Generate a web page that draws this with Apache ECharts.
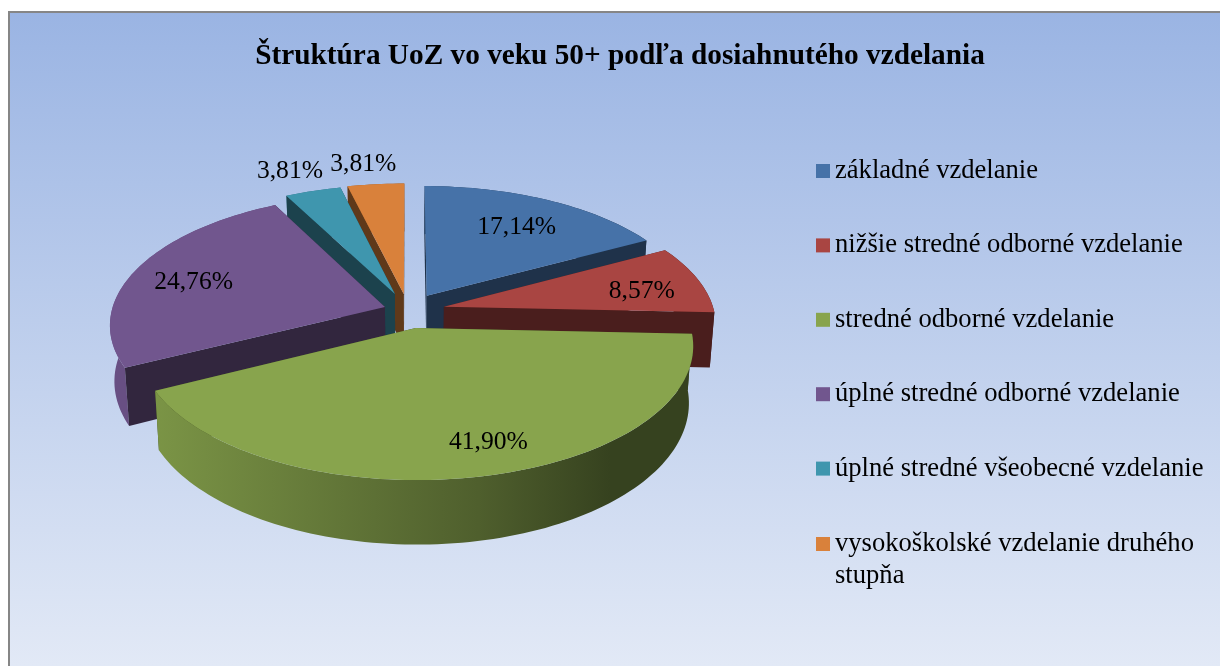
<!DOCTYPE html>
<html>
<head>
<meta charset="utf-8">
<style>html,body{margin:0;padding:0;background:#fff}#chart{width:1220px;height:666px}</style>
<script src="https://cdn.jsdelivr.net/npm/echarts@6/dist/echarts.min.js"></script>
</head>
<body>
<div id="chart"></div>
<script>
// ---- data ----
const titleText = 'Štruktúra UoZ vo veku 50+ podľa dosiahnutého vzdelania';
const categories = [
  'základné vzdelanie',
  'nižšie stredné odborné vzdelanie',
  'stredné odborné vzdelanie',
  'úplné stredné odborné vzdelanie',
  'úplné stredné všeobecné vzdelanie',
  'vysokoškolské vzdelanie druhého stupňa'
];
const shares = [17.14, 8.57, 41.90, 24.76, 3.81, 3.81];

// ---- styling / layout ----
const colors = ['#4672a8', '#a94542', '#88a44d', '#71568e', '#3f96ae', '#d9813b'];
const explode = [0.137, 0.137, 0.137, 0.09, 0.14, 0.13];
const radiusScale = [1, 1, 1, 1.012, 1, 1.015];
const labelRadius = [0.70, 0.76, 0.814, 0.76, 1.23, 1.23];
const labelTurn = [1, 3.5, -4.7, -2.5, -1.4, -1.5];
const PIE = { cx: 408, cy: 310.5, rx: 270, ry: 127.5, persp: 0.13, depth: 55, shrink: 0.985 };

const total = shares.reduce((a, b) => a + b, 0);
const rad = d => d * Math.PI / 180;
let acc = 0;
const slices = shares.map((v, i) => {
  const start = acc / total * 360;
  acc += v;
  const end = acc / total * 360;
  const mid = (start + end) / 2;
  return { start, end, mid, ax: explode[i] * Math.sin(rad(mid)), ay: explode[i] * Math.cos(rad(mid)) };
});
const backToFront = [5, 4, 0, 3, 1, 2];

function project(u, v, low) {
  const w = 1 / (1 + PIE.persp * v);
  let x = PIE.rx * u * w;
  let y = PIE.cy - PIE.ry * v * w;
  if (low) { x *= PIE.shrink; y += PIE.depth * w; }
  return [PIE.cx + x, y];
}
function rimPoint(s, deg, r, low) {
  return project(s.ax + r * Math.sin(rad(deg)), s.ay + r * Math.cos(rad(deg)), low);
}
function mix(hex, k) {
  const n = parseInt(hex.slice(1), 16);
  const c = [n >> 16, (n >> 8) & 255, n & 255].map(x => Math.round(x * k));
  return 'rgb(' + c.join(',') + ')';
}
function polygon(points, fill) {
  return { type: 'polygon', shape: { points }, style: { fill }, silent: true };
}
function renderSlice(i) {
  const s = slices[i];
  const base = colors[i];
  const R = radiusScale[i];
  const top = [], bottom = [];
  const steps = Math.max(4, Math.ceil((s.end - s.start) / 1.5));
  for (let k = 0; k <= steps; k++) {
    const d = s.start + (s.end - s.start) * k / steps;
    top.push(rimPoint(s, d, R, false));
    bottom.push(rimPoint(s, d, R, true));
  }
  const wall = deg => polygon([
    rimPoint(s, deg, 0, false), rimPoint(s, deg, R, false),
    rimPoint(s, deg, R, true), rimPoint(s, deg, 0, true)
  ], mix(base, 0.44));
  const sideFill = {
    type: 'linear', global: true,
    x: PIE.cx - PIE.rx, y: 0, x2: PIE.cx + PIE.rx * 0.75, y2: 0,
    colorStops: [
      { offset: 0, color: mix(base, 0.92) },
      { offset: 0.72, color: mix(base, 0.58) },
      { offset: 1, color: mix(base, 0.4) }
    ]
  };
  const side = polygon(top.concat(bottom.slice().reverse()), sideFill);
  const startFront = Math.sin(rad(s.start)) < -1e-6;
  const endFront = Math.sin(rad(s.end)) > 1e-6;
  const children = [];
  if (!startFront) children.push(wall(s.start));
  if (!endFront) children.push(wall(s.end));
  children.push(side);
  if (startFront) children.push(wall(s.start));
  if (endFront) children.push(wall(s.end));
  children.push(polygon([rimPoint(s, s.start, 0, false)].concat(top), base));
  return { type: 'group', children };
}
function renderLabel(i) {
  const s = slices[i];
  const p = rimPoint(s, s.mid + labelTurn[i], labelRadius[i], false);
  return {
    type: 'text', x: p[0], y: p[1], silent: true,
    style: {
      text: shares[i].toFixed(2).replace('.', ',') + '%',
      fill: '#000', font: '25.6px "Liberation Serif"', align: 'center', verticalAlign: 'middle'
    }
  };
}

const series = categories.map((name, i) => ({
  type: 'custom',
  name,
  coordinateSystem: 'none',
  z: 3 + backToFront.indexOf(i),
  itemStyle: { color: colors[i] },
  data: [shares[i]],
  renderItem: () => renderSlice(i),
  animation: false,
  silent: true
}));
series.push({
  type: 'custom',
  name: 'labels',
  coordinateSystem: 'none',
  z: 20,
  data: shares.slice(),
  renderItem: (params) => renderLabel(params.dataIndex),
  animation: false,
  silent: true
});

const legendText = { fontFamily: 'Liberation Serif', fontSize: 26.6, color: '#000' };
const option = {
  animation: false,
  backgroundColor: '#ffffff',
  title: {
    text: titleText, left: 615, top: 51, textAlign: 'center', textVerticalAlign: 'middle',
    textStyle: { fontFamily: 'Liberation Serif', fontWeight: 'bold', fontSize: 29.3, color: '#000' }
  },
  legend: [
    {
      data: categories.slice(0, 5), orient: 'vertical', left: 811, top: 152,
      itemWidth: 14, itemHeight: 14, itemGap: 46.4, selectedMode: false,
      icon: 'rect', textStyle: Object.assign({ lineHeight: 28 }, legendText)
    },
    {
      data: categories.slice(5), orient: 'vertical', left: 811, top: 523,
      itemWidth: 14, itemHeight: 46, selectedMode: false,
      icon: 'path://M0 0H14V14H0Z M0 46H0.01V46Z',
      formatter: n => n.replace(' stupňa', '\nstupňa'),
      textStyle: Object.assign({ lineHeight: 32 }, legendText)
    }
  ],
  graphic: [{
    type: 'rect', z: -10, silent: true,
    shape: { x: 9, y: 12, width: 1240, height: 680 },
    style: {
      stroke: '#868686', lineWidth: 2,
      fill: {
        type: 'linear', x: 0, y: 0, x2: 0, y2: 0.96,
        colorStops: [{ offset: 0, color: '#9ab4e3' }, { offset: 1, color: '#e2e9f6' }]
      }
    }
  }],
  series
};
const chart = echarts.init(document.getElementById('chart'), null, { renderer: 'canvas' });
chart.setOption(option);
</script>
</body>
</html>
